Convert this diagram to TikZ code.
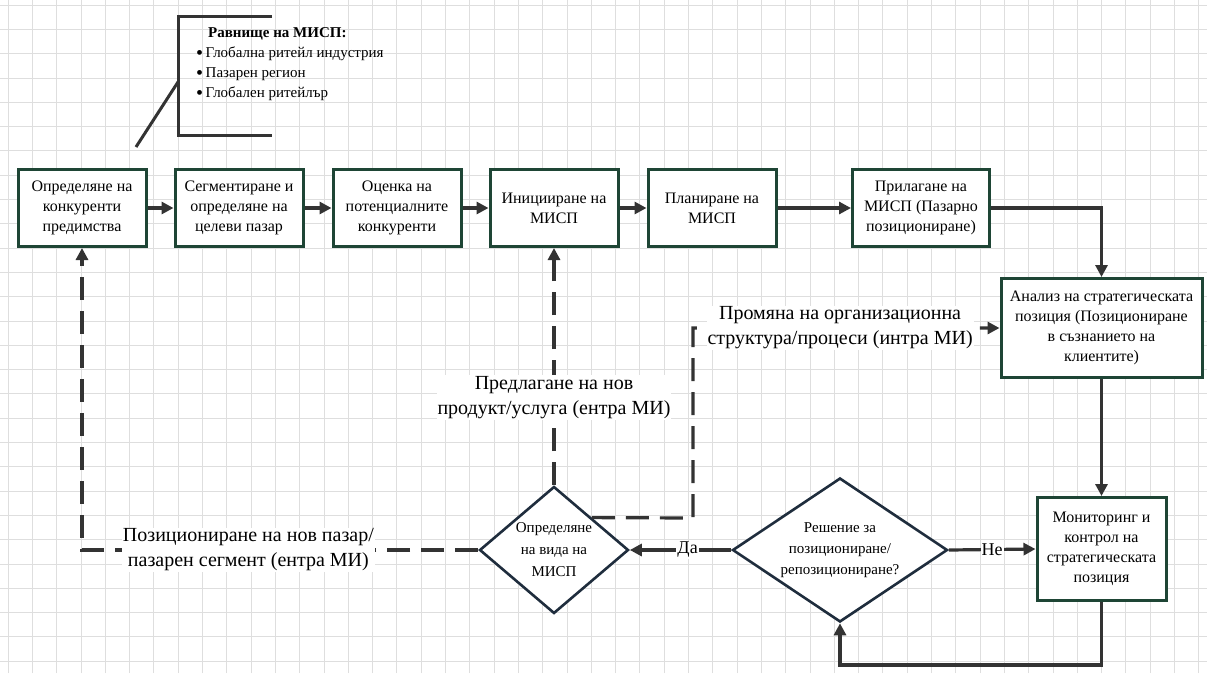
\documentclass[tikz,border=0pt]{standalone}
\usepackage{fontspec}
\setmainfont{Liberation Serif}
\usetikzlibrary{arrows.meta,shapes.geometric}
\definecolor{mispgreen}{HTML}{1E4535}
\definecolor{mispnavy}{HTML}{1F2D3D}
\definecolor{mispline}{HTML}{333333}
\definecolor{mispgrid}{HTML}{DEDEDE}
\newcommand{\mispdot}{\raisebox{-2.5pt}{\fontsize{20}{20}\selectfont\textbullet}\,}

\begin{document}
\begin{tikzpicture}[
  x=1pt, y=-1pt,
  font=\fontsize{16}{20}\selectfont,
  stage/.style={draw=mispgreen, line width=3pt, fill=white, minimum width=128pt, minimum height=77pt, align=center, inner sep=2pt},
  choice/.style={draw=mispnavy, line width=2.6pt, fill=white, diamond, aspect=1.4, align=center, inner sep=-6pt},
  flow/.style={draw=mispline, line width=3.2pt, -{Triangle[length=12pt,width=12pt]}},
  altflow/.style={flow, dash pattern=on 23pt off 11pt},
  tag/.style={fill=white, inner sep=1pt, align=center, font=\fontsize{20}{25}\selectfont},
  answer/.style={fill=white, inner sep=1pt, font=\fontsize{18}{20}\selectfont}
]
\useasboundingbox (0,0) rectangle (1207,673);
\fill[white] (0,0) rectangle (1207,673);
\draw[mispgrid, line width=0.8pt, shift={(8,5)}, xstep=24.3pt, ystep=24.3pt] (-8,668) grid (1199,-5);

% callout
\draw[mispline, line width=3pt] (272,16) -- (178,16) -- (178,135) -- (272,135);
\draw[mispline, line width=3pt] (178,82) -- (136,147);
\node[anchor=north west, align=left, inner sep=0pt, font=\fontsize{15}{20}\selectfont] (levels) at (196,27)
  {\hspace*{12pt}\textbf{Равнище на МИСП:}\\
   \mispdot Глобална ритейл индустрия\\
   \mispdot Пазарен регион\\
   \mispdot Глобален ритейлър};

\node[stage] (advantage) at (82,208) {Определяне на\\конкуренти\\предимства};
\node[stage] (segment) at (239,208) {Сегментиране и\\определяне на\\целеви пазар};
\node[stage] (rivals) at (397,208) {Оценка на\\потенциалните\\конкуренти};
\node[stage] (initiate) at (554,208) {Иницииране на\\МИСП};
\node[stage] (plan) at (712,208) {Планиране на\\МИСП};
\node[stage, minimum width=137pt] (apply) at (921,208) {Прилагане на\\МИСП (Пазарно\\позициониране)};

\node[stage, minimum width=201pt, minimum height=99pt] (analysis) at (1101.5,328) {Анализ на стратегическата\\позиция (Позициониране\\в съзнанието на\\клиентите)};
\node[stage, minimum width=129pt, minimum height=103pt] (monitor) at (1101.5,549) {Мониторинг и\\контрол на\\стратегическата\\позиция};

\node[choice, minimum width=215pt, minimum height=144pt, font=\fontsize{15}{21}\selectfont] (decide) at (840,550) {Решение за\\позициониране/\\репозициониране?};
\node[choice, minimum width=149pt, minimum height=127pt, font=\fontsize{15}{22}\selectfont] (mtype) at (554,550) {Определяне\\на вида на\\МИСП};

\draw[flow] (advantage) -- (segment);
\draw[flow] (segment) -- (rivals);
\draw[flow] (rivals) -- (initiate);
\draw[flow] (initiate) -- (plan);
\draw[flow] (plan) -- (apply);
\draw[flow] (apply.east) -| (analysis.north);
\draw[flow] (analysis) -- (monitor);
\draw[flow] (monitor.south) -- ++(0,63) -| (decide.south);
\draw[flow] (decide.east) -- node[answer] {Не} (monitor.west);
\draw[flow] (decide.west) -- node[answer, pos=0.43] {Да} (mtype.east);

\draw[altflow] (mtype.west) -| node[tag, pos=0.29] {Позициониране на нов пазар/\\пазарен сегмент (ентра МИ)} (advantage.south);
\draw[altflow] (mtype.north) -- node[tag, pos=0.37] {Предлагане на нов\\продукт/услуга (ентра МИ)} (initiate.south);
\coordinate (orgbend) at (693,518);
\draw[altflow] (mtype.north east) -- (orgbend) |- node[tag, pos=0.74] {Промяна на организационна\\структура/процеси (интра МИ)} (analysis.west);
\end{tikzpicture}
\end{document}
